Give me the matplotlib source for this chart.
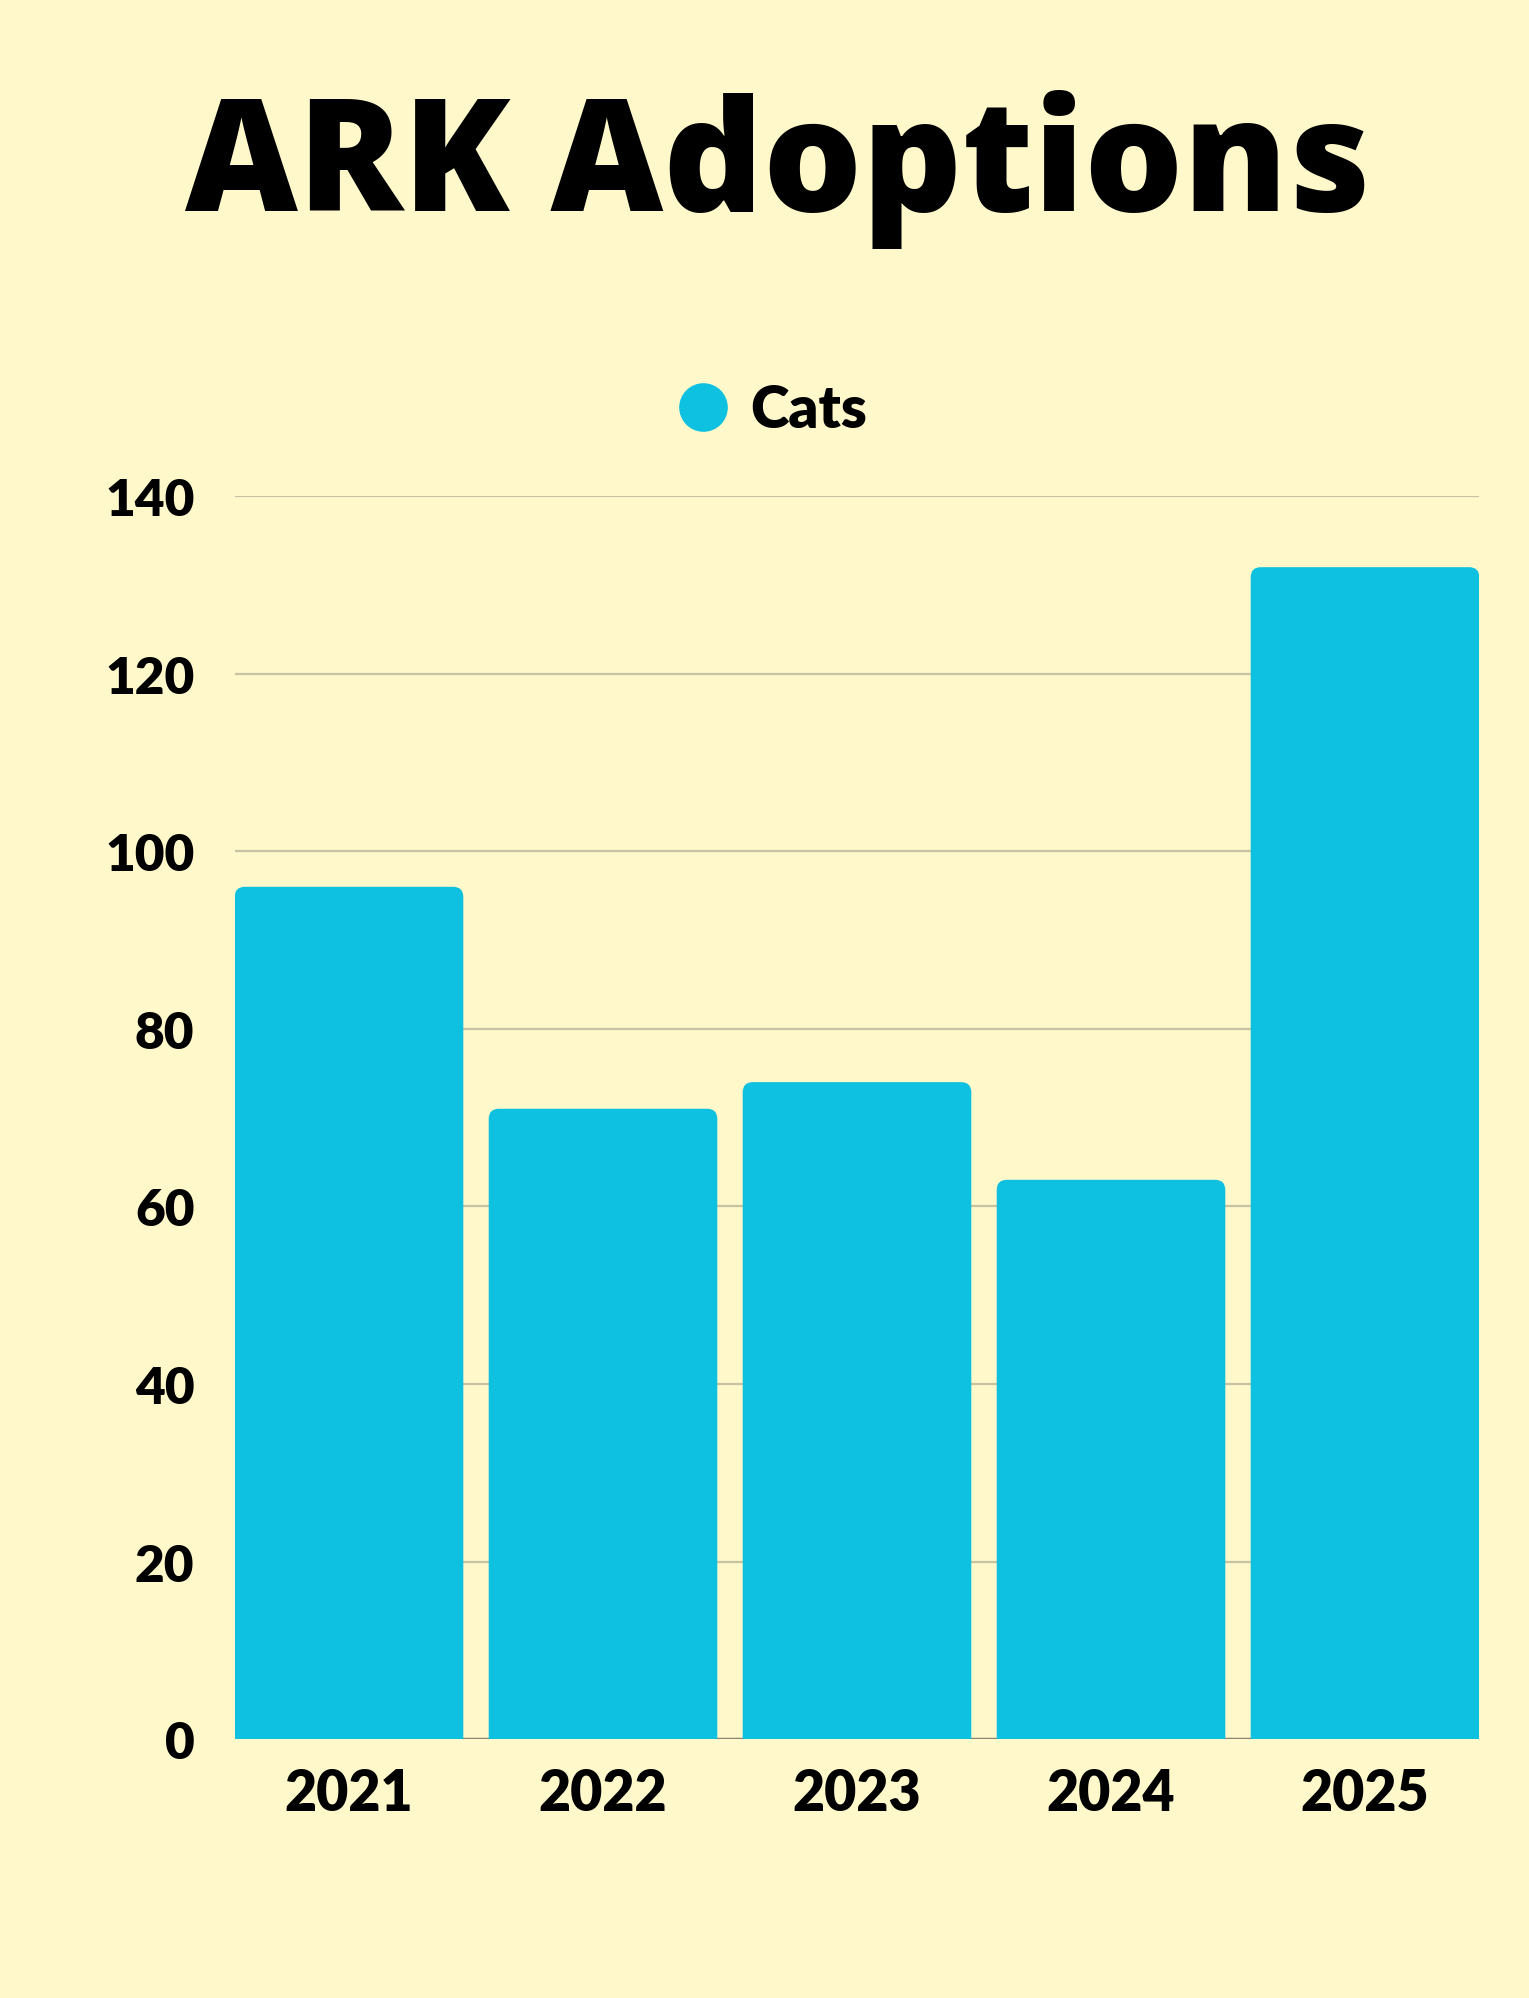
import matplotlib.pyplot as plt
from matplotlib.patches import FancyBboxPatch
from matplotlib.lines import Line2D

years = ['2021', '2022', '2023', '2024', '2025']
cats = [96, 71, 74, 63, 132]
yticks = [0, 20, 40, 60, 80, 100, 120, 140]

bg = '#fef8ca'
bar_color = '#0ec1e0'
grid_color = '#c6c2a2'

fig = plt.figure(figsize=(15.29, 19.99), dpi=100, facecolor=bg)
ax = fig.add_axes([0.1535, 0.1295, 0.814, 0.6218], facecolor=bg)

x = list(range(len(years)))
bars = ax.bar(x, cats, width=0.9, color=bar_color, zorder=3)

# swap the square bars for ones with rounded corners (bottom is hidden below 0)
for b in bars:
    bx, bw, bh = b.get_x(), b.get_width(), b.get_height()
    b.set_visible(False)
    p = FancyBboxPatch((bx, -6), bw, bh + 6,
                       boxstyle='round,pad=0,rounding_size=0.04',
                       mutation_aspect=28.6, facecolor=bar_color,
                       edgecolor='none', zorder=3)
    ax.add_patch(p)

ax.set_xlim(-0.45, 4.45)
ax.set_ylim(0, 140)
ax.set_yticks(yticks)
ax.set_xticks(x)
ax.set_xticklabels(years)
for y in yticks[1:]:
    ax.axhline(y, color=grid_color, lw=1.6, zorder=1)
ax.axhline(0, color='#8c8670', lw=2.5, zorder=1)

for s in ax.spines.values():
    s.set_visible(False)
ax.tick_params(axis='both', length=0)
ax.tick_params(axis='y', pad=29, labelsize=37)
ax.tick_params(axis='x', pad=20, labelsize=40)
for lab in ax.get_yticklabels() + ax.get_xticklabels():
    lab.set_fontfamily('Lato')
    lab.set_fontweight('heavy')

fig.text(0.5085, 0.915, 'ARK Adoptions', ha='center', va='center',
         fontsize=112, fontweight='heavy', family='Open Sans')

handle = Line2D([], [], marker='o', linestyle='none', markersize=35,
                markerfacecolor=bar_color, markeredgecolor='none')
fig.legend([handle], ['Cats'], loc='center', bbox_to_anchor=(0.505, 0.7946),
           frameon=False, handlelength=0.9, handletextpad=0.35,
           prop={'family': 'Lato', 'weight': 'heavy', 'size': 42})

fig.savefig('out.png', dpi=100, facecolor=bg)
